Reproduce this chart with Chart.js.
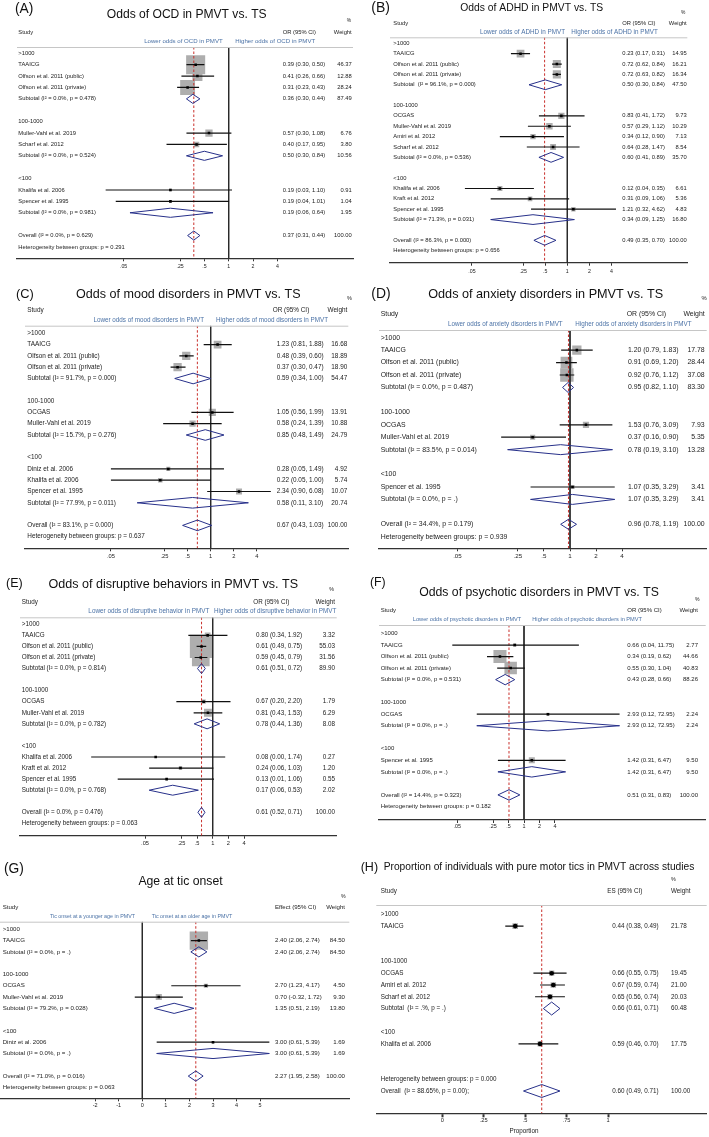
<!DOCTYPE html>
<html><head><meta charset="utf-8">
<script src="https://cdn.jsdelivr.net/npm/chart.js@4.4.1/dist/chart.umd.min.js"></script>
<style>
html,body{margin:0;padding:0;background:#fff;}
#wrap{position:relative;width:709px;height:1137px;overflow:hidden;background:#fff;}
canvas{position:absolute;}
</style></head><body><div id="wrap"></div>
<script>
// ================= DATA =================
const oddsTicks = [0.05, 0.25, 0.5, 1, 2, 4];
const ageTicks = [-2, -1, 0, 1, 2, 3, 4, 5];
const propTicks = [0, 0.25, 0.5, 0.75, 1];

// (A) OCD
const ocdLabels = ['>1000','TAAICG','Olfson et al. 2011 (public)','Olfson et al. 2011 (private)','Subtotal (I² = 0.0%, p = 0.478)','','100-1000','Muller-Vahl et al. 2019','Scharf et al. 2012','Subtotal (I² = 0.0%, p = 0.524)','','<100','Khalifa et al. 2006','Spencer et al. 1995','Subtotal (I² = 0.0%, p = 0.981)','','Overall (I² = 0.0%, p = 0.629)','Heterogeneity between groups: p = 0.291'];
const ocdES = [null,0.39,0.41,0.31,0.36,null,null,0.57,0.40,0.50,null,null,0.19,0.19,0.19,null,0.37,null];
const ocdLo = [null,0.30,0.26,0.23,0.30,null,null,0.30,0.17,0.30,null,null,0.03,0.04,0.06,null,0.31,null];
const ocdHi = [null,0.50,0.66,0.43,0.44,null,null,1.08,0.95,0.84,null,null,1.10,1.01,0.64,null,0.44,null];
const ocdWt = [null,46.37,12.88,28.24,87.49,null,null,6.76,3.80,10.56,null,null,0.91,1.04,1.95,null,100.00,null];

// (B) ADHD
const adhdLabels = ['>1000','TAAICG','Olfson et al. 2011 (public)','Olfson et al. 2011 (private)','Subtotal  (I² = 96.1%, p = 0.000)','','100-1000','OCGAS','Muller-Vahl et al. 2019','Amiri et al. 2012','Scharf et al. 2012','Subtotal (I² = 0.0%, p = 0.536)','','<100','Khalifa et al. 2006','Kraft et al. 2012','Spencer et al. 1995','Subtotal (I² = 71.3%, p = 0.031)','','Overall (I² = 86.3%, p = 0.000)','Heterogeneity between groups: p = 0.656'];
const adhdES = [null,0.23,0.72,0.72,0.50,null,null,0.83,0.57,0.34,0.64,0.60,null,null,0.12,0.31,1.21,0.34,null,0.49,null];
const adhdLo = [null,0.17,0.62,0.63,0.30,null,null,0.41,0.29,0.12,0.28,0.41,null,null,0.04,0.09,0.32,0.09,null,0.35,null];
const adhdHi = [null,0.31,0.84,0.82,0.84,null,null,1.72,1.12,0.90,1.47,0.89,null,null,0.35,1.06,4.62,1.25,null,0.70,null];
const adhdWt = [null,14.95,16.21,16.34,47.50,null,null,9.73,10.29,7.13,8.54,35.70,null,null,6.61,5.36,4.83,16.80,null,100.00,null];

// (C) Mood disorders
const moodLabels = ['>1000','TAAICG','Olfson et al. 2011 (public)','Olfson et al. 2011 (private)','Subtotal (I² = 91.7%, p = 0.000)','','100-1000','OCGAS','Muller-Vahl et al. 2019','Subtotal (I² = 15.7%, p = 0.276)','','<100','Diniz et al. 2006','Khalifa et al. 2006','Spencer et al. 1995','Subtotal (I² = 77.9%, p = 0.011)','','Overall (I² = 83.1%, p = 0.000)','Heterogeneity between groups: p = 0.637'];
const moodES = [null,1.23,0.48,0.37,0.59,null,null,1.05,0.58,0.85,null,null,0.28,0.22,2.34,0.58,null,0.67,null];
const moodLo = [null,0.81,0.39,0.30,0.34,null,null,0.56,0.24,0.48,null,null,0.05,0.05,0.90,0.11,null,0.43,null];
const moodHi = [null,1.88,0.60,0.47,1.00,null,null,1.99,1.39,1.49,null,null,1.49,1.00,6.08,3.10,null,1.03,null];
const moodWt = [null,16.68,18.89,18.90,54.47,null,null,13.91,10.88,24.79,null,null,4.92,5.74,10.07,20.74,null,100.00,null];

// (D) Anxiety disorders
const anxLabels = ['>1000','TAAICG','Olfson et al. 2011 (public)','Olfson et al. 2011 (private)','Subtotal (I² = 0.0%, p = 0.487)','','100-1000','OCGAS','Muller-Vahl et al. 2019','Subtotal (I² = 83.5%, p = 0.014)','','<100','Spencer et al. 1995','Subtotal (I² = 0.0%, p = .)','','Overall (I² = 34.4%, p = 0.179)','Heterogeneity between groups: p = 0.939'];
const anxES = [null,1.20,0.91,0.92,0.95,null,null,1.53,0.37,0.78,null,null,1.07,1.07,null,0.96,null];
const anxLo = [null,0.79,0.69,0.76,0.82,null,null,0.76,0.16,0.19,null,null,0.35,0.35,null,0.78,null];
const anxHi = [null,1.83,1.20,1.12,1.10,null,null,3.09,0.90,3.10,null,null,3.29,3.29,null,1.19,null];
const anxWt = [null,17.78,28.44,37.08,83.30,null,null,7.93,5.35,13.28,null,null,3.41,3.41,null,100.00,null];

// (E) Disruptive behaviors
const disLabels = ['>1000','TAAICG','Olfson et al. 2011 (public)','Olfson et al. 2011 (private)','Subtotal (I² = 0.0%, p = 0.814)','','100-1000','OCGAS','Muller-Vahl et al. 2019','Subtotal (I² = 0.0%, p = 0.782)','','<100','Khalifa et al. 2006','Kraft et al. 2012','Spencer et al. 1995','Subtotal (I² = 0.0%, p = 0.768)','','Overall (I² = 0.0%, p = 0.476)','Heterogeneity between groups: p = 0.063'];
const disES = [null,0.80,0.61,0.59,0.61,null,null,0.67,0.81,0.78,null,null,0.08,0.24,0.13,0.17,null,0.61,null];
const disLo = [null,0.34,0.49,0.45,0.51,null,null,0.20,0.43,0.44,null,null,0.0046,0.06,0.0149,0.06,null,0.52,null];
const disHi = [null,1.92,0.75,0.79,0.72,null,null,2.20,1.53,1.36,null,null,1.74,1.03,1.06,0.53,null,0.71,null];
const disWt = [null,3.32,55.03,31.56,89.90,null,null,1.79,6.29,8.08,null,null,0.27,1.20,0.55,2.02,null,100.00,null];

// (F) Psychotic disorders
const psyLabels = ['>1000','TAAICG','Olfson et al. 2011 (public)','Olfson et al. 2011 (private)','Subtotal (I² = 0.0%, p = 0.531)','','100-1000','OCGAS','Subtotal (I² = 0.0%, p = .)','','<100','Spencer et al. 1995','Subtotal (I² = 0.0%, p = .)','','Overall (I² = 14.4%, p = 0.323)','Heterogeneity between groups: p = 0.182'];
const psyES = [null,0.66,0.34,0.55,0.43,null,null,2.93,2.93,null,null,1.42,1.42,null,0.51,null];
const psyLo = [null,0.04,0.19,0.30,0.28,null,null,0.12,0.12,null,null,0.31,0.31,null,0.31,null];
const psyHi = [null,11.75,0.62,1.04,0.66,null,null,72.95,72.95,null,null,6.47,6.47,null,0.83,null];
const psyWt = [null,2.77,44.66,40.83,88.26,null,null,2.24,2.24,null,null,9.50,9.50,null,100.00,null];

// (G) Age at tic onset
const ageLabels = ['>1000','TAAICG','Subtotal (I² = 0.0%, p = .)','','100-1000','OCGAS','Muller-Vahl et al. 2019','Subtotal (I² = 79.2%, p = 0.028)','','<100','Diniz et al. 2006','Subtotal (I² = 0.0%, p = .)','','Overall (I² = 71.0%, p = 0.016)','Heterogeneity between groups: p = 0.063'];
const ageES = [null,2.40,2.40,null,null,2.70,0.70,1.35,null,null,3.00,3.00,null,2.27,null];
const ageLo = [null,2.06,2.06,null,null,1.23,-0.32,0.51,null,null,0.61,0.61,null,1.95,null];
const ageHi = [null,2.74,2.74,null,null,4.17,1.72,2.19,null,null,5.39,5.39,null,2.58,null];
const ageWt = [null,84.50,84.50,null,null,4.50,9.30,13.80,null,null,1.69,1.69,null,100.00,null];

// (H) Proportion with pure motor tics
const propLabels = ['>1000','TAAICG','','','100-1000','OCGAS','Amiri et al. 2012','Scharf et al. 2012','Subtotal  (I² = .%, p = .)','','<100','Khalifa et al. 2006','','','Heterogeneity between groups: p = 0.000','Overall  (I² = 88.65%, p = 0.00);'];
const propES = [null,0.44,null,null,null,0.66,0.67,0.65,0.66,null,null,0.59,null,null,null,0.60];
const propLo = [null,0.38,null,null,null,0.55,0.59,0.56,0.61,null,null,0.46,null,null,null,0.49];
const propHi = [null,0.49,null,null,null,0.75,0.74,0.74,0.71,null,null,0.70,null,null,null,0.71];
const propWt = [null,21.78,null,null,null,19.45,21.00,20.03,60.48,null,null,17.75,null,null,null,100.00];

// ================= RENDERING =================
const FONT = '"Liberation Sans", Arial, Helvetica, sans-serif';
const fmt2 = v => v.toFixed(2);
const fmtTick = v => {
  if (v === 0) return '0';
  const s = String(v);
  if (s.startsWith('0.')) return s.slice(1);
  if (s.startsWith('-0.')) return '-' + s.slice(2);
  return s;
};

function textPlugin(P) {
  return {
    id: 'forestText',
    afterDraw(chart) {
      const ctx = chart.ctx, ys = chart.scales.y, ca = chart.chartArea;
      const bx = P.box[0], by = P.box[1];
      const F = s => `${s}px ${FONT}`;
      const X = x => x - bx, Y = y => y - by;
      ctx.save();
      ctx.textBaseline = 'middle';
      // header separator line
      ctx.strokeStyle = '#c6c6c6'; ctx.lineWidth = 1;
      ctx.beginPath(); ctx.moveTo(ca.left, ca.top + 0.5); ctx.lineTo(ca.right, ca.top + 0.5); ctx.stroke();
      // panel letter
      ctx.fillStyle = '#111'; ctx.textAlign = 'left';
      ctx.font = F(P.letterSize); ctx.fillText(P.letter, X(P.letterXY[0]), Y(P.letterXY[1]));
      // title fitted to measured width
      ctx.font = F(100);
      const tw = ctx.measureText(P.title).width;
      ctx.font = F(100 * P.titleW / tw); ctx.textAlign = 'center';
      ctx.fillText(P.title, X(P.titleC[0]), Y(P.titleC[1]));
      // column headers
      ctx.fillStyle = '#222';
      ctx.font = F(P.fs * 0.85); ctx.fillText('%', X(P.pct[0]), Y(P.pct[1]));
      ctx.font = F(P.fs); ctx.textAlign = 'left';
      ctx.fillText('Study', X(P.studyX), Y(P.hdrY));
      ctx.fillText(P.ciHdr, X(P.ciHdrX), Y(P.hdrY));
      if (P.wtL) { ctx.fillText('Weight', X(P.wtL), Y(P.hdrY)); }
      else { ctx.textAlign = 'right'; ctx.fillText('Weight', X(P.wtR), Y(P.hdrY)); }
      // direction labels
      if (P.blue) {
        ctx.fillStyle = '#4b72a6'; ctx.font = F(P.blueFs);
        ctx.textAlign = 'right'; ctx.fillText(P.blue[0], X(P.blueLR), Y(P.blueY));
        ctx.textAlign = 'left'; ctx.fillText(P.blue[1], X(P.blueRL), Y(P.blueY));
      }
      // rows
      ctx.fillStyle = '#222'; ctx.font = F(P.fs);
      for (let i = 0; i < P.labels.length; i++) {
        const y = ys.getPixelForValue(i);
        ctx.textAlign = 'left';
        if (P.labels[i]) ctx.fillText(P.labels[i], X(P.studyX), y);
        if (P.es[i] != null) {
          ctx.fillText(`${fmt2(P.es[i])} (${fmt2(P.lo[i])}, ${fmt2(P.hi[i])})`, X(P.ciX), y);
          if (P.wtL) ctx.fillText(fmt2(P.wt[i]), X(P.wtL), y);
          else { ctx.textAlign = 'right'; ctx.fillText(fmt2(P.wt[i]), X(P.wtR), y); }
        }
      }
      if (P.xTitle) {
        ctx.textAlign = 'center'; ctx.font = F(P.fs);
        ctx.fillText(P.xTitle, X(P.xTitleXY[0]), Y(P.xTitleXY[1]));
      }
      ctx.restore();
    }
  };
}

function buildForest(P) {
  const [bx, by, bw, bh] = P.box;
  const c = document.createElement('canvas');
  c.width = bw; c.height = bh;
  Object.assign(c.style, {left: bx + 'px', top: by + 'px', width: bw + 'px', height: bh + 'px'});
  document.getElementById('wrap').appendChild(c);

  const n = P.labels.length;
  const yMin = (P.lineY - P.row0) / P.step;
  const yMax = (P.axisY - P.row0) / P.step;
  let xMin, xMax, nullV;
  if (P.log) {
    xMin = Math.pow(10, (P.areaL - P.nullPx) / P.pxDec);
    xMax = Math.pow(10, (P.areaR - P.nullPx) / P.pxDec);
    nullV = 1;
  } else {
    xMin = (P.areaL - P.zeroPx) / P.pxUnit;
    xMax = (P.areaR - P.zeroPx) / P.pxUnit;
    nullV = 0;
  }
  const kind = i => {
    const l = P.labels[i];
    if (P.es[i] == null) return l ? 'text' : '';
    if (l.startsWith('Subtotal') || l.startsWith('Overall')) return 'pool';
    return 'study';
  };
  const ds = [];
  const boxes = [], pts = [];
  for (let i = 0; i < n; i++) {
    if (kind(i) === 'study') {
      boxes.push({x: P.es[i], y: i, w: P.wt[i]});
      pts.push({x: P.es[i], y: i});
    }
  }
  ds.push({data: boxes, pointStyle: 'rect', backgroundColor: '#aeaeae', borderWidth: 0,
    pointRadius: ctx => (ctx.raw ? P.boxK * Math.sqrt(ctx.raw.w) / Math.SQRT2 : 0), order: 6});
  if (!P.noNull) {
    ds.push({data: [{x: nullV, y: yMin}, {x: nullV, y: yMax}], showLine: true, borderColor: '#2a2a2a',
      borderWidth: 1, pointRadius: 0, order: 5});
  }
  const io = P.labels.findIndex(l => l.startsWith('Overall'));
  ds.push({data: [{x: P.es[io], y: yMin}, {x: P.es[io], y: yMax}], showLine: true, borderColor: '#c9302c',
    borderWidth: 1, borderDash: [2.5, 2], pointRadius: 0, order: 4});
  for (let i = 0; i < n; i++) {
    const k = kind(i);
    if (k === 'study') {
      ds.push({data: [{x: P.lo[i], y: i}, {x: P.hi[i], y: i}], showLine: true, borderColor: '#111',
        borderWidth: 1.2, pointRadius: 0, order: 3});
    } else if (k === 'pool') {
      ds.push({data: [{x: P.lo[i], y: i}, {x: P.es[i], y: i - P.dH}, {x: P.hi[i], y: i}, {x: P.es[i], y: i + P.dH}, {x: P.lo[i], y: i}],
        showLine: true, borderColor: '#27308a', borderWidth: 1, borderJoinStyle: 'miter', pointRadius: 0, order: 3});
    }
  }
  ds.push({data: pts, pointStyle: P.circle ? 'circle' : 'rect', pointRadius: P.circle ? 2.3 : 1.8,
    backgroundColor: '#000', borderWidth: 0, order: 1});

  const tickLen = P.tickLen || 3;
  const tickFs = P.tickFs || P.fs * 0.9;
  const pad = P.tickY - P.axisY - tickLen - 0.6 * tickFs;

  new Chart(c, {
    type: 'scatter',
    data: {datasets: ds},
    options: {
      responsive: false, animation: false, events: [], devicePixelRatio: 1,
      layout: {autoPadding: false, padding: {left: P.areaL - bx, right: bx + bw - P.areaR, top: P.lineY - by, bottom: 0}},
      plugins: {legend: {display: false}, tooltip: {enabled: false}, title: {display: false}},
      scales: {
        x: {
          type: P.log ? 'logarithmic' : 'linear', position: 'bottom', min: xMin, max: xMax, bounds: 'data',
          afterBuildTicks: s => { s.ticks = P.ticks.map(v => ({value: v})); },
          afterFit: s => { s.height = by + bh - P.axisY; },
          border: {display: true, color: '#333', width: P.axisW || 1.2},
          grid: {display: true, drawOnChartArea: false, drawTicks: true, tickLength: tickLen, tickWidth: P.tickW || 1, tickColor: '#333'},
          ticks: {autoSkip: false, maxRotation: 0, minRotation: 0, padding: pad, color: '#222',
            font: {family: FONT, size: tickFs}, callback: v => fmtTick(v)}
        },
        y: {type: 'linear', display: false, reverse: true, min: yMin, max: yMax, bounds: 'data'}
      }
    },
    plugins: [textPlugin(P)]
  });
}

const panels = [
  {box: [0, 0, 354, 285], letter: '(A)', letterXY: [15, 9.5], letterSize: 13.8,
   title: 'Odds of OCD in PMVT vs. TS', titleC: [186.7, 15], titleW: 160, pct: [349, 20.7],
   hdrY: 32, studyX: 18.3, ciHdr: 'OR (95% CI)', ciHdrX: 282.7, ciX: 282.7, wtR: 351.7,
   blue: ['Lower odds of OCD in PMVT', 'Higher odds of OCD in PMVT'], blueY: 41.7, blueLR: 222.7, blueRL: 235.3, blueFs: 6.1,
   lineY: 47, areaL: 17, areaR: 353, axisY: 258.3, row0: 53.3, step: 11.39, tickY: 267,
   log: true, nullPx: 228.7, pxDec: 80.8, fs: 5.8, boxK: 2.8, dH: 0.4,
   labels: ocdLabels, es: ocdES, lo: ocdLo, hi: ocdHi, wt: ocdWt, ticks: oddsTicks},
  {box: [354, 0, 355, 285], letter: '(B)', letterXY: [371.3, 8], letterSize: 14,
   title: 'Odds of ADHD in PMVT vs. TS', titleC: [531.7, 8], titleW: 143, pct: [683.3, 12.7],
   hdrY: 23.3, studyX: 393.3, ciHdr: 'OR (95% CI)', ciHdrX: 622.3, ciX: 622.3, wtR: 686.7,
   blue: ['Lower odds of ADHD in PMVT', 'Higher odds of ADHD in PMVT'], blueY: 32.7, blueLR: 565, blueRL: 571.3, blueFs: 6.3,
   lineY: 37.3, areaL: 390, areaR: 687.3, axisY: 262.7, row0: 43.3, step: 10.37, tickY: 271.7,
   log: true, nullPx: 567.3, pxDec: 73.25, fs: 5.8, boxK: 2.0, dH: 0.47,
   labels: adhdLabels, es: adhdES, lo: adhdLo, hi: adhdHi, wt: adhdWt, ticks: oddsTicks},
  {box: [0, 285, 354, 280], letter: '(C)', letterXY: [16, 294.2], letterSize: 12.8,
   title: 'Odds of mood disorders in PMVT vs. TS', titleC: [188.3, 294.5], titleW: 224.7, pct: [349.3, 298.3],
   hdrY: 310, studyX: 27.3, ciHdr: 'OR (95% CI)', ciHdrX: 272.7, ciX: 276.7, wtR: 347.3,
   blue: ['Lower odds of mood disorders in PMVT', 'Higher odds of mood disorders in PMVT'], blueY: 320, blueLR: 204, blueRL: 216, blueFs: 6.3,
   lineY: 325.7, areaL: 25, areaR: 348.3, axisY: 548.3, row0: 333.3, step: 11.3, tickY: 556.7,
   log: true, nullPx: 210.7, pxDec: 76.7, fs: 6.4, boxK: 1.9, dH: 0.47,
   labels: moodLabels, es: moodES, lo: moodLo, hi: moodHi, wt: moodWt, ticks: oddsTicks},
  {box: [354, 285, 355, 280], letter: '(D)', letterXY: [371.3, 294.2], letterSize: 13.9,
   title: 'Odds of anxiety disorders in PMVT vs. TS', titleC: [545.7, 294.5], titleW: 235.3, pct: [704, 298],
   hdrY: 314, studyX: 380.7, ciHdr: 'OR (95% CI)', ciHdrX: 626.7, ciX: 628, wtR: 704.7,
   blue: ['Lower odds of anxiety disorders in PMVT', 'Higher odds of anxiety disorders in PMVT'], blueY: 324.3, blueLR: 562.7, blueRL: 575.3, blueFs: 6.3,
   lineY: 330, areaL: 379, areaR: 706.7, axisY: 548.3, row0: 337.7, step: 12.44, tickY: 556.7,
   log: true, nullPx: 570, pxDec: 86.5, fs: 6.9, boxK: 2.2, dH: 0.4,
   labels: anxLabels, es: anxES, lo: anxLo, hi: anxHi, wt: anxWt, ticks: oddsTicks},
  {box: [0, 565, 354, 280], letter: '(E)', letterXY: [6, 583.3], letterSize: 12.5,
   title: 'Odds of disruptive behaviors in PMVT vs. TS', titleC: [173.3, 585], titleW: 250, pct: [331.7, 590],
   hdrY: 602.7, studyX: 21.7, ciHdr: 'OR (95% CI)', ciHdrX: 253.3, ciX: 256, wtR: 335,
   blue: ['Lower odds of disruptive behavior in PMVT', 'Higher odds of disruptive behavior in PMVT'], blueY: 611.7, blueLR: 209.3, blueRL: 214, blueFs: 6.35,
   lineY: 617.3, areaL: 20, areaR: 336.7, axisY: 835.7, row0: 624.3, step: 11.06, tickY: 843.3,
   log: true, nullPx: 212.7, pxDec: 52, fs: 6.3, boxK: 3.15, dH: 0.45,
   labels: disLabels, es: disES, lo: disLo, hi: disHi, wt: disWt, ticks: oddsTicks},
  {box: [354, 565, 355, 280], letter: '(F)', letterXY: [370, 582.5], letterSize: 12.3,
   title: 'Odds of psychotic disorders in PMVT vs. TS', titleC: [539, 592.5], titleW: 240, pct: [697.3, 599.3],
   hdrY: 610, studyX: 380.7, ciHdr: 'OR (95% CI)', ciHdrX: 627.3, ciX: 627.3, wtR: 698,
   blue: ['Lower odds of psychotic disorders in PMVT', 'Higher odds of psychotic disorders in PMVT'], blueY: 619.3, blueLR: 521.3, blueRL: 532.3, blueFs: 5.65,
   lineY: 625, areaL: 379, areaR: 705.7, axisY: 820, row0: 633.5, step: 11.53, tickY: 826.7,
   log: true, nullPx: 524, pxDec: 51.3, fs: 6.0, boxK: 1.95, dH: 0.45,
   labels: psyLabels, es: psyES, lo: psyLo, hi: psyHi, wt: psyWt, ticks: oddsTicks},
  {box: [0, 845, 354, 292], letter: '(G)', letterXY: [4, 869], letterSize: 13.8,
   title: 'Age at tic onset', titleC: [180.5, 881.7], titleW: 84.3, pct: [343.3, 896.7],
   hdrY: 907.7, studyX: 2.7, ciHdr: 'Effect (95% CI)', ciHdrX: 275, ciX: 275, wtR: 345,
   blue: ['Tic onset at a younger age in PMVT', 'Tic onset at an older age in PMVT'], blueY: 916.7, blueLR: 135, blueRL: 151.7, blueFs: 5.35,
   lineY: 921.7, areaL: 0, areaR: 349.3, axisY: 1098.3, row0: 929.3, step: 11.29, tickY: 1105.7,
   log: false, zeroPx: 142.3, pxUnit: 23.57, fs: 6.1, boxK: 2.0, dH: 0.45,
   labels: ageLabels, es: ageES, lo: ageLo, hi: ageHi, wt: ageWt, ticks: ageTicks},
  {box: [354, 845, 355, 292], letter: '(H)', letterXY: [360.7, 867.5], letterSize: 12.5,
   title: 'Proportion of individuals with pure motor tics in PMVT across studies', titleC: [539, 866.7], titleW: 311.3, pct: [673.3, 879.3],
   hdrY: 891.7, studyX: 380.7, ciHdr: 'ES (95% CI)', ciHdrX: 607.3, ciX: 612.3, wtL: 671,
   lineY: 905, areaL: 376.3, areaR: 706.7, axisY: 1113.3, row0: 914.3, step: 11.78, tickY: 1120,
   log: false, zeroPx: 442.3, pxUnit: 165.7, fs: 6.3, boxK: 1.2, dH: 0.55, circle: true, noNull: true,
   tickLen: 4, tickW: 2, xTitle: 'Proportion', xTitleXY: [524, 1131],
   labels: propLabels, es: propES, lo: propLo, hi: propHi, wt: propWt, ticks: propTicks}
];

panels.forEach(buildForest);
</script>
</body></html>
